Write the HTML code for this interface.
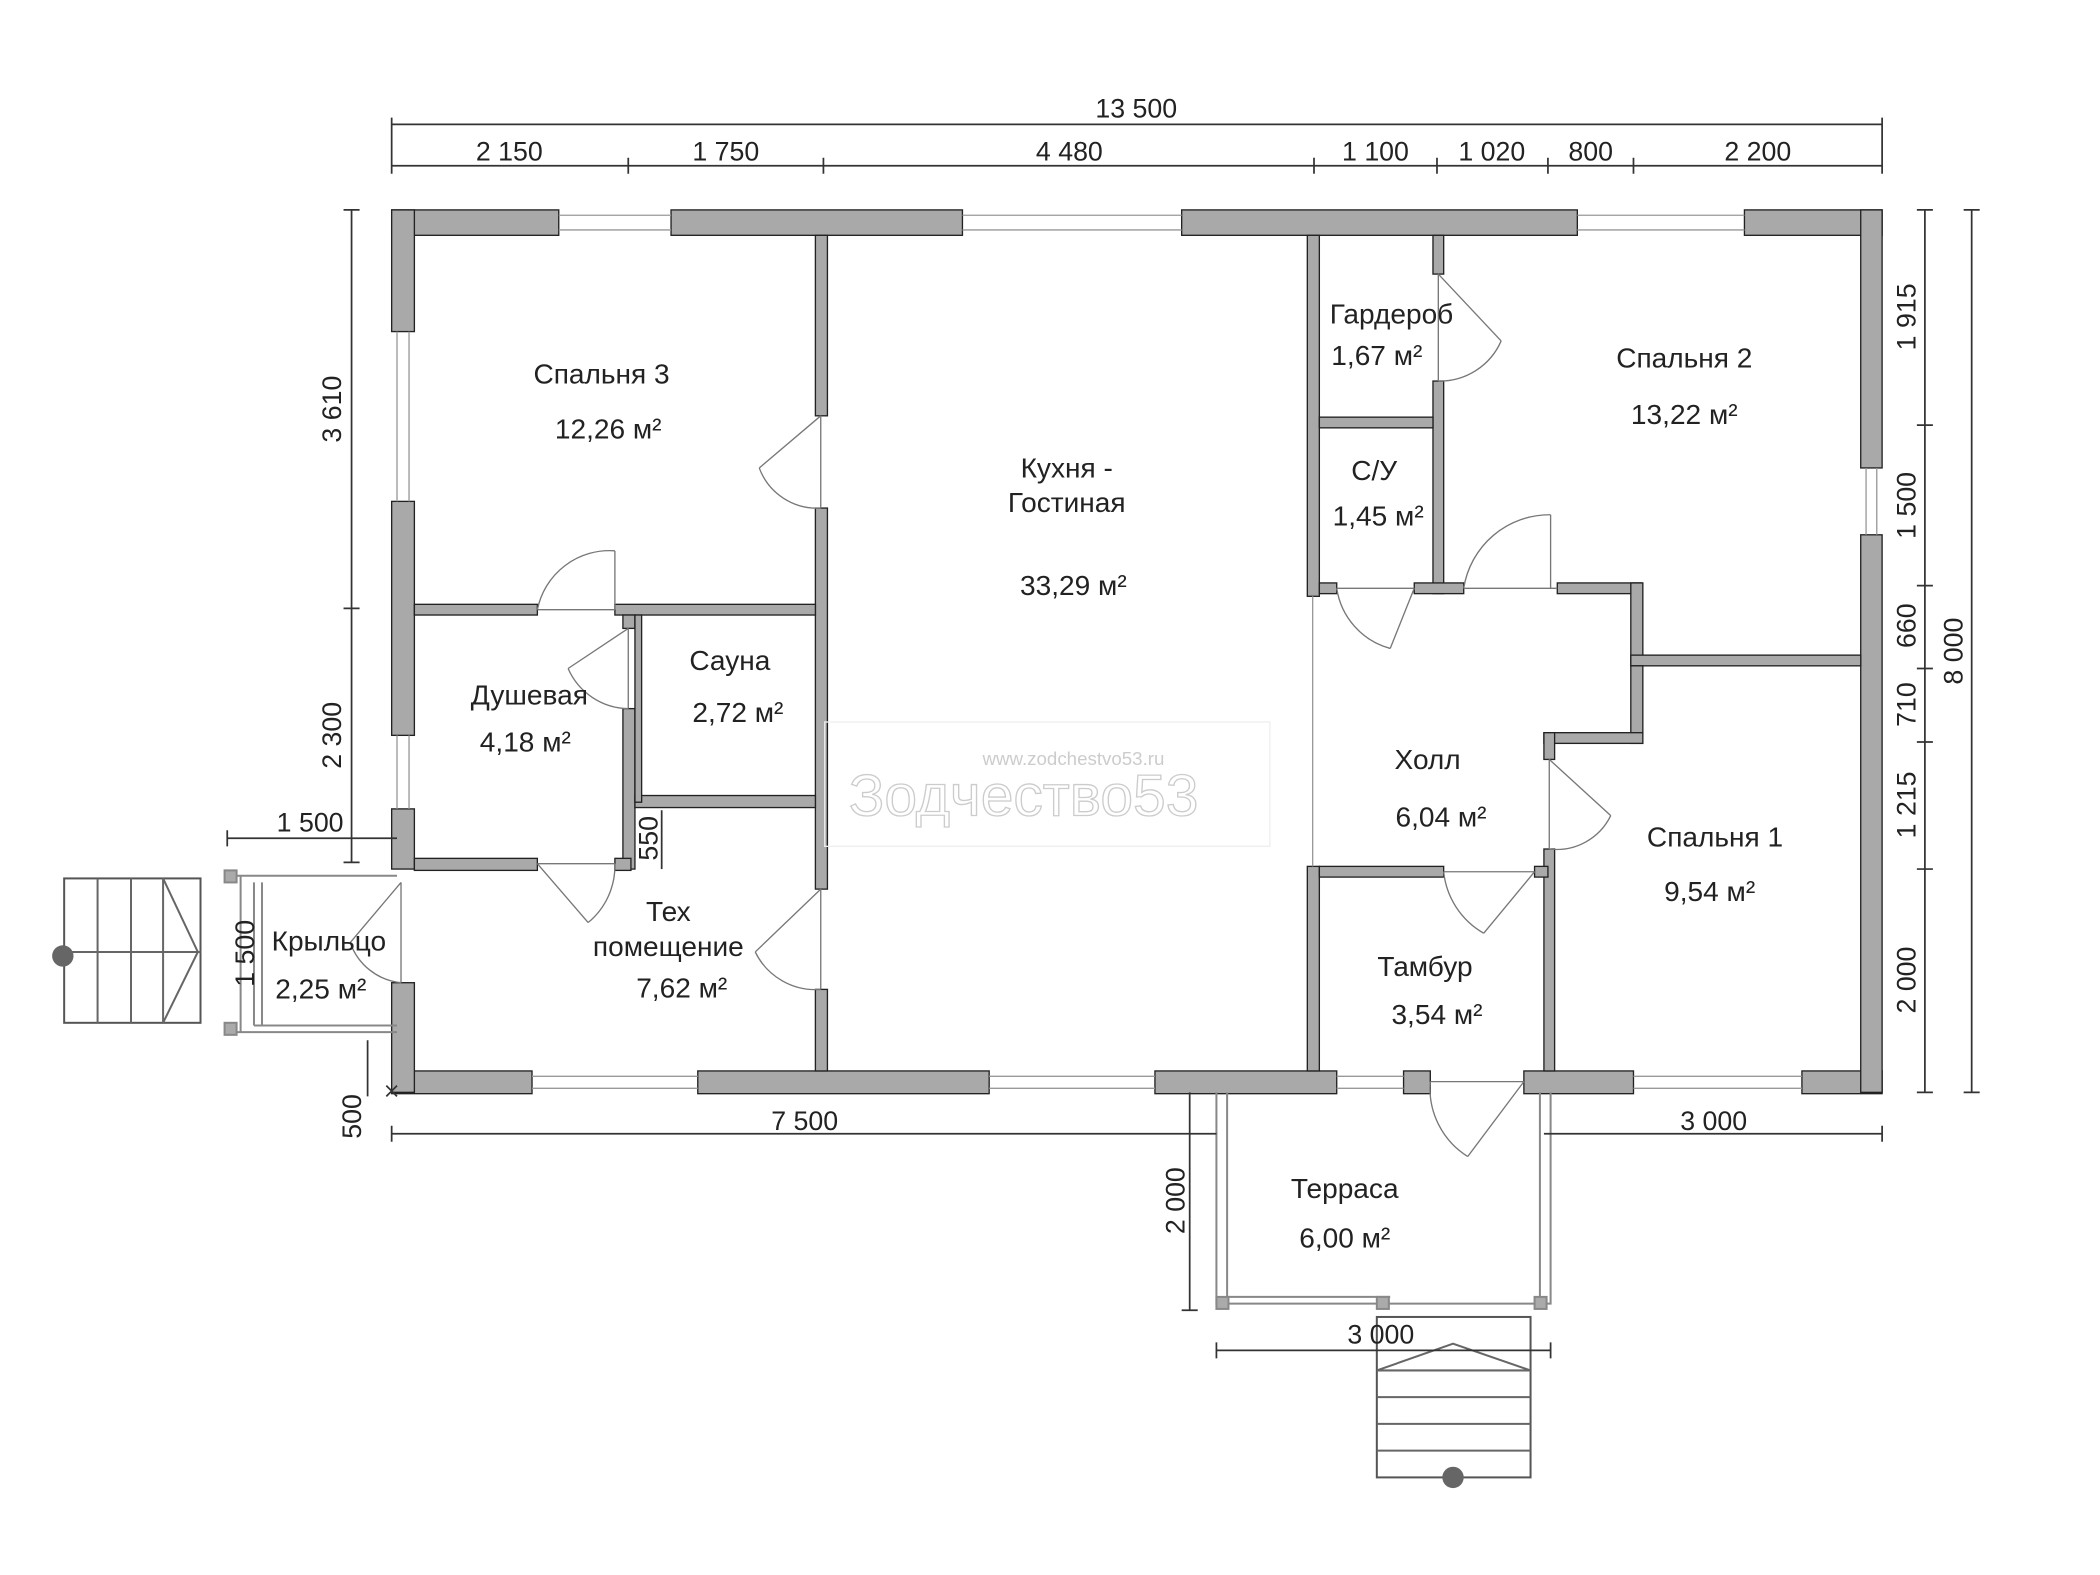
<!DOCTYPE html>
<html><head><meta charset="utf-8"><style>
html,body{margin:0;padding:0;background:#fff;}
svg{display:block;}
text{font-family:"Liberation Sans",sans-serif;fill:#222;}
.r{font-size:21px;text-anchor:middle;}
.d{font-size:20px;text-anchor:middle;}
</style></head><body>
<svg width="2100" height="1575" viewBox="0 0 1571 1178" preserveAspectRatio="none" xmlns="http://www.w3.org/2000/svg">
<rect width="1571" height="1178" fill="#fff"/>
<g fill="#a9a9a9" stroke="#222" stroke-width="1">
<rect x="293" y="157" width="125" height="19"/><rect x="502" y="157" width="218" height="19"/><rect x="884" y="157" width="296" height="19"/><rect x="1305" y="157" width="103" height="19"/>
<rect x="293" y="801" width="105" height="17"/><rect x="522" y="801" width="218" height="17"/><rect x="864" y="801" width="136" height="17"/><rect x="1050" y="801" width="20" height="17"/><rect x="1140" y="801" width="82" height="17"/><rect x="1348" y="801" width="60" height="17"/>
<rect x="293" y="157" width="17" height="91"/><rect x="293" y="375" width="17" height="175"/><rect x="293" y="605" width="17" height="45"/><rect x="293" y="735" width="17" height="82"/>
<rect x="1392" y="157" width="16" height="193"/><rect x="1392" y="400" width="16" height="417"/>
<rect x="610" y="176" width="9" height="135"/><rect x="610" y="380" width="9" height="285"/><rect x="610" y="740" width="9" height="61"/>
<rect x="978" y="176" width="9" height="270"/><rect x="978" y="648" width="9" height="153"/>
<rect x="310" y="452" width="92" height="8"/><rect x="460" y="452" width="150" height="8"/>
<rect x="466" y="460" width="9" height="10"/><rect x="466" y="530" width="9" height="120"/>
<rect x="475" y="595" width="135" height="9"/><rect x="475" y="460" width="5" height="140"/>
<rect x="310" y="642" width="92" height="9"/><rect x="460" y="642" width="12" height="9"/>
<rect x="1072" y="176" width="8" height="29"/><rect x="1072" y="285" width="8" height="159"/>
<rect x="987" y="312" width="85" height="8"/>
<rect x="987" y="436" width="13" height="8"/><rect x="1058" y="436" width="37" height="8"/><rect x="1165" y="436" width="63" height="8"/>
<rect x="1220" y="436" width="9" height="62"/><rect x="1220" y="490" width="172" height="8"/>
<rect x="1220" y="498" width="9" height="58"/><rect x="1155" y="548" width="74" height="8"/>
<rect x="1155" y="548" width="8" height="20"/><rect x="1155" y="635" width="8" height="166"/>
<rect x="987" y="648" width="93" height="8"/><rect x="1148" y="648" width="10" height="8"/>
</g>
<g stroke="#999" stroke-width="1" fill="none">
<path d="M418 161H502M418 172H502M720 161H884M720 172H884M1180 161H1305M1180 172H1305"/>
<path d="M398 805H522M398 814H522M740 805H864M740 814H864M1000 805H1050M1000 814H1050M1222 805H1348M1222 814H1348"/>
<path d="M297 248V375M306 248V375M297 550V605M306 550V605M1396 350V400M1404 350V400"/>
<path d="M982 446V648"/>
</g>
<g stroke="#777" stroke-width="1" fill="none">
<path d="M614 311V380M614 311L568 350M568 350A46 46 0 0 0 614 380"/>
<path d="M402 456H460M460 456V412M460 412A55 55 0 0 0 402 456"/>
<path d="M470 470V530M470 470L425 500M425 500A50 50 0 0 0 470 530"/>
<path d="M402 646H460M402 646L440 690M440 690A55 55 0 0 0 460 646"/>
<path d="M614 665V740M614 665L565 712M565 712A50 50 0 0 0 614 740"/>
<path d="M1076 205V285M1076 205L1123 255M1123 255A50 50 0 0 1 1076 285"/>
<path d="M1000 440H1058M1058 440L1040 485M1040 485A55 55 0 0 1 1000 440"/>
<path d="M1095 440H1165M1160 440V385M1160 385A65 65 0 0 0 1095 440"/>
<path d="M1159 568V635M1159 568L1205 610M1205 610A45 45 0 0 1 1159 635"/>
<path d="M1080 652H1148M1148 652L1110 698M1110 698A60 60 0 0 1 1080 652"/>
<path d="M1070 809H1140M1140 809L1098 865M1098 865A60 60 0 0 1 1070 809"/>
<path d="M300 660V735M300 660L262 705M262 705A45 45 0 0 0 300 735"/>
</g>
<g stroke="#888" fill="none" stroke-width="1.5">
<path d="M910 817V975H1160V817M918 817V970M1152 817V970M918 970H1040"/>
<rect x="910" y="970" width="9" height="9" fill="#aaa"/><rect x="1030" y="970" width="9" height="9" fill="#aaa"/><rect x="1148" y="970" width="9" height="9" fill="#aaa"/>
<rect x="1030" y="985" width="115" height="120" stroke="#555"/>
<path d="M1030 1025L1087 1005L1145 1025M1030 1025H1145M1030 1045H1145M1030 1065H1145M1030 1085H1145" stroke="#666"/>
<path d="M172 655H297M172 772H297M180 655V772M190 660V767M196 660V767M190 767H297" stroke="#888"/>
<rect x="168" y="651" width="9" height="9" fill="#aaa"/><rect x="168" y="765" width="9" height="9" fill="#aaa"/>
<rect x="48" y="657" width="102" height="108" stroke="#555"/>
<path d="M48 712H150M73 657V765M98 657V765M122 657V765M122 657L148 712L122 765" stroke="#666"/>
</g>
<circle cx="1087" cy="1105" r="8" fill="#666"/><circle cx="47" cy="715" r="8" fill="#666"/>
<g stroke="#333" stroke-width="1.3" fill="none">
<path d="M293 93H1408M293 124H1408"/>
<path d="M293 88V130M470 118V130M616 118V130M983 118V130M1075 118V130M1158 118V130M1222 118V130M1408 88V130"/>
<path d="M1440 157V817M1475 157V817"/>
<path d="M1434 157H1446M1434 318H1446M1434 438H1446M1434 500H1446M1434 555H1446M1434 650H1446M1434 817H1446M1469 157H1481M1469 817H1481"/>
<path d="M263 157V645M257 157H269M257 455H269M257 645H269"/>
<path d="M293 848H910M1155 848H1408M293 842V854M1408 842V854"/>
<path d="M890 817V980M884 980H896M910 1010H1160M910 1004V1016M1160 1004V1016"/>
<path d="M170 627H297M170 621V633M275 778V820M289 812L297 820M297 812L289 820"/>
<path d="M495 606V650"/>
</g>
<text class="d" x="850" y="88">13 500</text>
<text class="d" x="381" y="120">2 150</text><text class="d" x="543" y="120">1 750</text><text class="d" x="800" y="120">4 480</text>
<text class="d" x="1029" y="120">1 100</text><text class="d" x="1116" y="120">1 020</text><text class="d" x="1190" y="120">800</text><text class="d" x="1315" y="120">2 200</text>
<text class="d" transform="translate(1433,237) rotate(-90)">1 915</text>
<text class="d" transform="translate(1433,378) rotate(-90)">1 500</text>
<text class="d" transform="translate(1433,468) rotate(-90)">660</text>
<text class="d" transform="translate(1433,527) rotate(-90)">710</text>
<text class="d" transform="translate(1433,602) rotate(-90)">1 215</text>
<text class="d" transform="translate(1433,733) rotate(-90)">2 000</text>
<text class="d" transform="translate(1468,487) rotate(-90)">8 000</text>
<text class="d" transform="translate(255,306) rotate(-90)">3 610</text>
<text class="d" transform="translate(255,550) rotate(-90)">2 300</text>
<text class="d" transform="translate(190,713) rotate(-90)">1 500</text>
<text class="d" transform="translate(270,835) rotate(-90)">500</text>
<text class="d" transform="translate(886,898) rotate(-90)">2 000</text>
<text class="d" transform="translate(492,627) rotate(-90)">550</text>
<text class="d" x="232" y="622">1 500</text>
<text class="d" x="602" y="845">7 500</text>
<text class="d" x="1282" y="845">3 000</text>
<text class="d" x="1033" y="1005">3 000</text>
<rect x="617" y="540" width="333" height="93" fill="none" stroke="#eee"/>
<text x="735" y="572" style="font-size:14px;fill:#ccc">www.zodchestvo53.ru</text>
<text x="635" y="610" style="font-size:44px;fill:none;stroke:#ccc;stroke-width:1">Зодчество53</text>
<text class="r" x="450" y="287">Спальня 3</text><text class="r" x="455" y="328">12,26 м²</text>
<text class="r" x="798" y="357">Кухня -</text><text class="r" x="798" y="383">Гостиная</text><text class="r" x="803" y="445">33,29 м²</text>
<text class="r" x="1041" y="242">Гардероб</text><text class="r" x="1030" y="273">1,67 м²</text>
<text class="r" x="1028" y="359">С/У</text><text class="r" x="1031" y="393">1,45 м²</text>
<text class="r" x="1260" y="275">Спальня 2</text><text class="r" x="1260" y="317">13,22 м²</text>
<text class="r" x="546" y="501">Сауна</text><text class="r" x="552" y="540">2,72 м²</text>
<text class="r" x="396" y="527">Душевая</text><text class="r" x="393" y="562">4,18 м²</text>
<text class="r" x="1068" y="575">Холл</text><text class="r" x="1078" y="618">6,04 м²</text>
<text class="r" x="1283" y="633">Спальня 1</text><text class="r" x="1279" y="674">9,54 м²</text>
<text class="r" x="500" y="689">Тех</text><text class="r" x="500" y="715">помещение</text><text class="r" x="510" y="746">7,62 м²</text>
<text class="r" x="246" y="711">Крыльцо</text><text class="r" x="240" y="747">2,25 м²</text>
<text class="r" x="1066" y="730">Тамбур</text><text class="r" x="1075" y="766">3,54 м²</text>
<text class="r" x="1006" y="896">Терраса</text><text class="r" x="1006" y="933">6,00 м²</text>
</svg>
</body></html>
